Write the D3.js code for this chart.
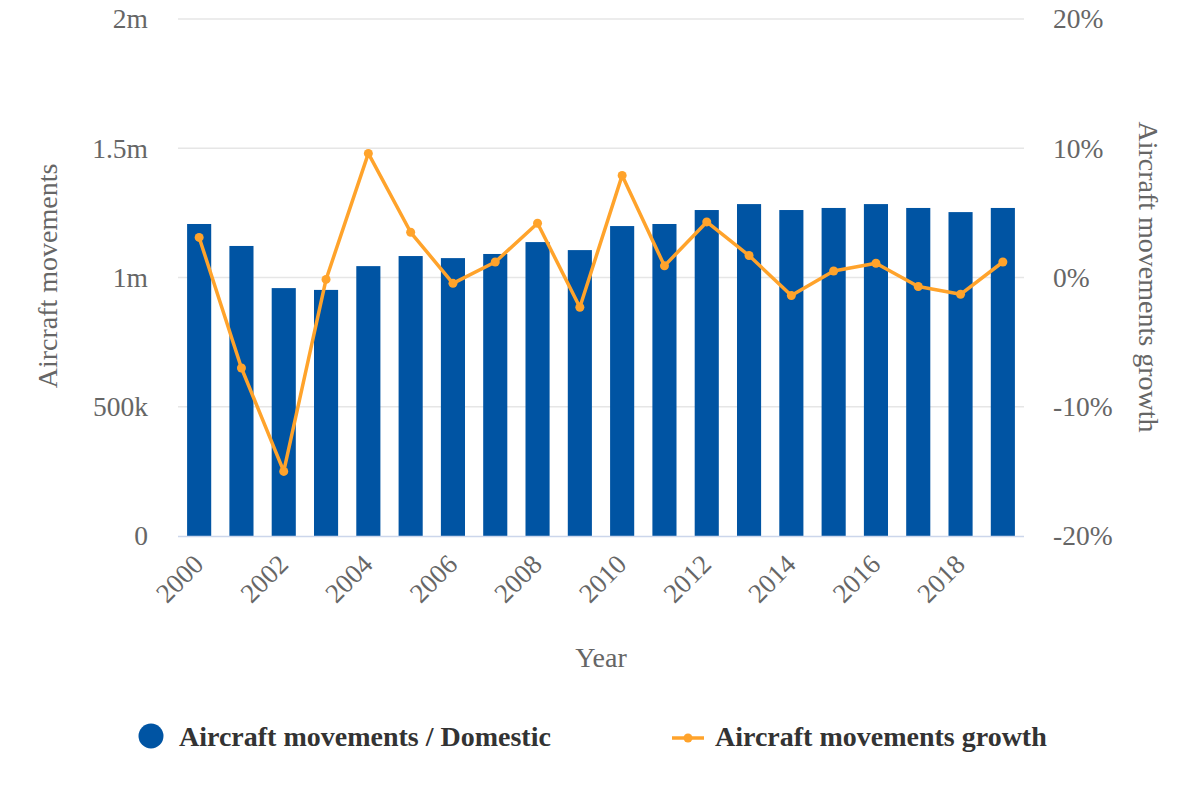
<!DOCTYPE html>
<html>
<head>
<meta charset="utf-8">
<script src="https://cdn.jsdelivr.net/npm/d3@7"></script>
<style>
  html, body { margin: 0; padding: 0; background: #fff; }
  svg { display: block; font-family: "Liberation Serif", "Times New Roman", serif; }
</style>
</head>
<body>
<svg id="chart" width="1200" height="800"></svg>
<script>
const years = [2000,2001,2002,2003,2004,2005,2006,2007,2008,2009,2010,2011,2012,2013,2014,2015,2016,2017,2018,2019];
const movements = [1207000,1122000,959000,952000,1044000,1083000,1075000,1091000,1137000,1106000,1199000,1207000,1261000,1284000,1261000,1269000,1284000,1269000,1253000,1269000];
const growth = [3.1,-7.0,-15.0,-0.15,9.6,3.5,-0.45,1.2,4.2,-2.3,7.9,0.9,4.3,1.7,-1.4,0.5,1.1,-0.7,-1.3,1.2];
const leftTicks = [0, 500000, 1000000, 1500000, 2000000];
const leftTickLabels = ["0", "500k", "1m", "1.5m", "2m"];
const rightTicks = [-20, -10, 0, 10, 20];
const rightTickLabels = ["-20%", "-10%", "0%", "10%", "20%"];
const xTickYears = [2000,2002,2004,2006,2008,2010,2012,2014,2016,2018];
const seriesNames = ["Aircraft movements / Domestic", "Aircraft movements growth"];

const BLUE = "#0054a3", ORANGE = "#ffa32b";
const svg = d3.select("#chart");
const m = {left: 178, right: 1024, top: 19, bottom: 536};

const x = d3.scaleBand().domain(years).range([m.left, m.right]).paddingInner(0.43).paddingOuter(0.215);
const yL = d3.scaleLinear().domain([0, 2000000]).range([m.bottom, m.top]);
const yR = d3.scaleLinear().domain([-20, 20]).range([m.bottom, m.top]);

// gridlines
svg.append("g").selectAll("line").data(leftTicks.slice(1)).join("line")
  .attr("x1", m.left).attr("x2", m.right)
  .attr("y1", d => yL(d)).attr("y2", d => yL(d))
  .attr("stroke", "#e6e6e6").attr("stroke-width", 1.5);

// left axis labels
const gl = svg.append("g").attr("transform", `translate(148,0)`)
  .call(d3.axisLeft(yL).tickValues(leftTicks).tickFormat((d,i) => leftTickLabels[i]).tickSize(0).tickPadding(0));
gl.select(".domain").remove();
gl.selectAll("text").attr("font-size", 27.5).attr("fill", "#666").attr("font-family", "Liberation Serif");

// right axis labels
const gr = svg.append("g").attr("transform", `translate(1053,0)`)
  .call(d3.axisRight(yR).tickValues(rightTicks).tickFormat((d,i) => rightTickLabels[i]).tickSize(0).tickPadding(0));
gr.select(".domain").remove();
gr.selectAll("text").attr("font-size", 27.5).attr("fill", "#666").attr("font-family", "Liberation Serif");

// bars
svg.append("g").selectAll("rect").data(years).join("rect")
  .attr("x", d => x(d)).attr("width", x.bandwidth())
  .attr("y", (d,i) => yL(movements[i])).attr("height", (d,i) => yL(0) - yL(movements[i]))
  .attr("fill", BLUE);

// baseline
svg.append("line").attr("x1", m.left).attr("x2", m.right).attr("y1", m.bottom + 0.5).attr("y2", m.bottom + 0.5)
  .attr("stroke", "#ccd6eb").attr("stroke-width", 1.5);

// x axis labels
const cx = d => x(d) + x.bandwidth() / 2;
svg.append("g").selectAll("text").data(xTickYears).join("text")
  .attr("transform", d => `translate(${cx(d) + 6},${566}) rotate(-45)`)
  .attr("text-anchor", "end")
  .attr("font-size", 27).attr("fill", "#666")
  .text(d => d);

// line
const line = d3.line().x((d,i) => cx(years[i])).y(d => yR(d));
svg.append("path").datum(growth).attr("d", line)
  .attr("fill", "none").attr("stroke", ORANGE).attr("stroke-width", 3.5).attr("stroke-linejoin", "round");
svg.append("g").selectAll("circle").data(growth).join("circle")
  .attr("cx", (d,i) => cx(years[i])).attr("cy", d => yR(d)).attr("r", 4.5).attr("fill", ORANGE);

// axis titles
svg.append("text").attr("transform", "translate(57,276) rotate(-90)").attr("text-anchor", "middle")
  .attr("font-size", 28).attr("fill", "#666").text("Aircraft movements");
svg.append("text").attr("transform", "translate(1139,277) rotate(90)").attr("text-anchor", "middle")
  .attr("font-size", 28).attr("fill", "#666").text("Aircraft movements growth");
svg.append("text").attr("x", 601).attr("y", 667).attr("text-anchor", "middle")
  .attr("font-size", 28).attr("fill", "#666").text("Year");

// legend
const lg = svg.append("g");
lg.append("circle").attr("cx", 151).attr("cy", 736).attr("r", 12.5).attr("fill", BLUE);
lg.append("text").attr("x", 179).attr("y", 746).attr("font-size", 28).attr("font-weight", "bold").attr("fill", "#333").text(seriesNames[0]);
lg.append("line").attr("x1", 672).attr("x2", 704).attr("y1", 738).attr("y2", 738).attr("stroke", ORANGE).attr("stroke-width", 3.5);
lg.append("circle").attr("cx", 688).attr("cy", 738).attr("r", 4.5).attr("fill", ORANGE);
lg.append("text").attr("x", 715).attr("y", 746).attr("font-size", 28).attr("font-weight", "bold").attr("fill", "#333").text(seriesNames[1]);
</script>
</body>
</html>
